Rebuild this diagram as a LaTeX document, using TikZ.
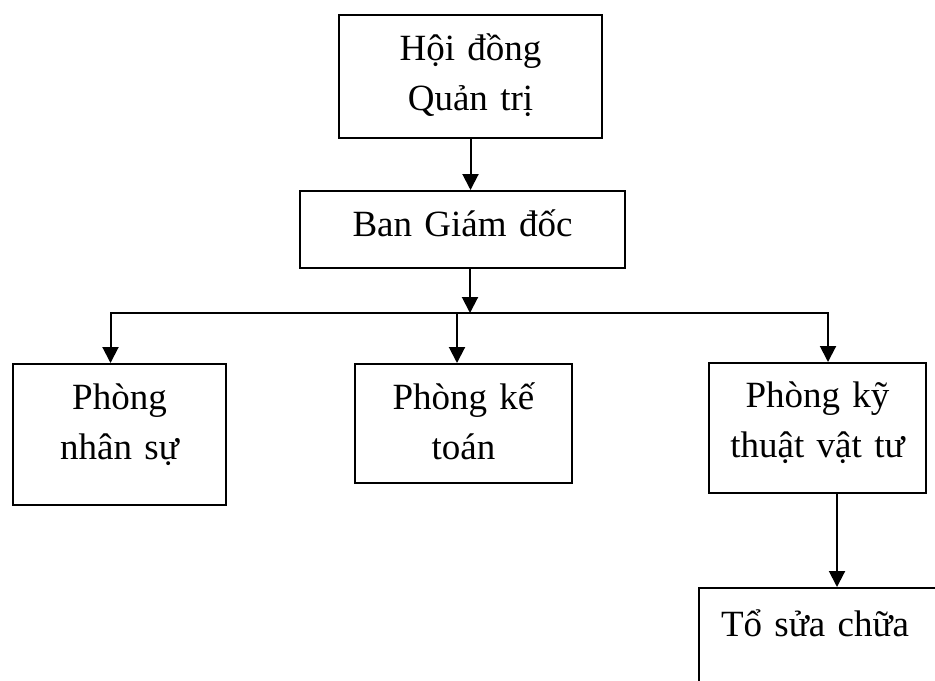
\documentclass[tikz,border=0pt]{standalone}
\usepackage{fontspec}
\setmainfont{Liberation Serif}
\usetikzlibrary{arrows.meta}

\begin{document}
\begin{tikzpicture}[x=0.5pt,y=-0.5pt,
    box/.style={draw,line width=1pt,inner sep=0pt,anchor=north west,align=center,
        font=\fontsize{18.5}{25}\selectfont,text height=22.5pt},
    arr/.style={line width=1pt,-{Triangle[width=8pt,length=8pt]}}]
    \useasboundingbox (0,0) rectangle (935,680);
    \clip (0,0) rectangle (935,680);
    \node[box,text width=131.5pt,text depth=39pt] (hdqt) at (338,14) {Hội đồng\\Quản trị};
    \node[box,text width=162.5pt,text depth=16pt] (bgd) at (299,190) {Ban Giám đốc};
    \node[box,text width=106.5pt,text depth=48pt] (nhansu) at (12,363) {Phòng\\nhân sự};
    \node[box,text width=108.5pt,text depth=37pt] (ketoan) at (354,363) {Phòng kế\\toán};
    \node[box,text width=108.5pt,text height=22pt,text depth=43pt] (kythuat) at (708,362) {Phòng kỹ\\thuật vật tư};
    \node[box,align=left,inner xsep=11pt,text width=130pt,text height=24pt,text depth=60pt] (suachua) at (698,587) {Tổ sửa chữa};
    % junction points of the bar
    \coordinate (split) at (470,313);
    \coordinate (barM) at (457,313);
    \coordinate (drop) at (837,0);
    \draw[arr] (hdqt.south) -- (hdqt.south |- bgd.north);
    \draw[arr] (split |- bgd.south) -- (split);
    \draw[arr] (split) -| ([xshift=-4.5pt]nhansu.north);
    \draw[arr] (barM) -- (barM |- ketoan.north);
    \draw[arr] (split) -| ([xshift=5.25pt]kythuat.north);
    \draw[arr] (drop |- kythuat.south) -- (drop |- suachua.north);
\end{tikzpicture}
\end{document}
